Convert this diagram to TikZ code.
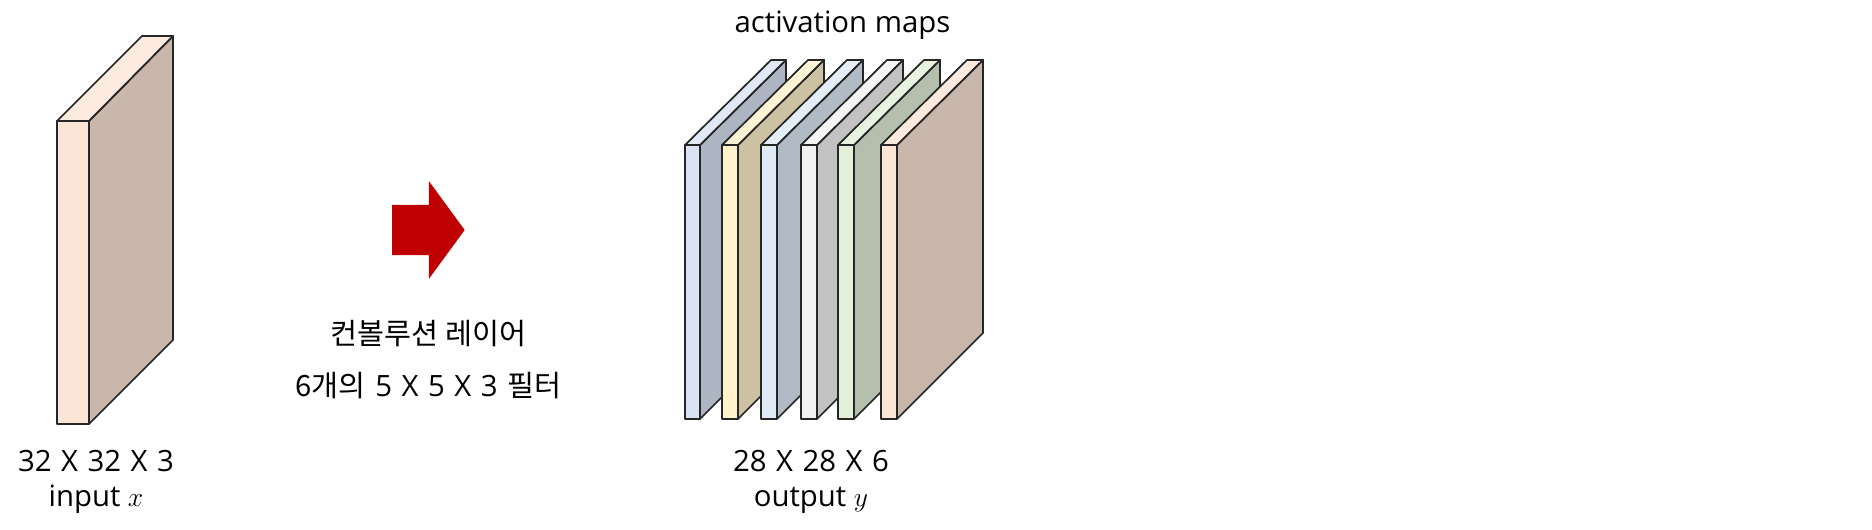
\documentclass[tikz,border=0pt]{standalone}
\usepackage{fontspec}
\setmainfont{Open Sans}
\newfontfamily\krfont{Noto Sans CJK KR}
\newfontfamily\sizefont[WordSpace=1.25]{Open Sans}
\usepackage{xcolor}
\usetikzlibrary{shapes,positioning}

\definecolor{bluefront}{HTML}{D9E3F3}
\definecolor{bluetop}{HTML}{E1E8F5}
\definecolor{blueside}{HTML}{AEB5C2}
\definecolor{yellowfront}{HTML}{FFF2CC}
\definecolor{yellowtop}{HTML}{FFF4D6}
\definecolor{yellowside}{HTML}{CCC2A3}
\definecolor{skyfront}{HTML}{DEEAF6}
\definecolor{skytop}{HTML}{E4EEF8}
\definecolor{skyside}{HTML}{B1BBC5}
\definecolor{grayfront}{HTML}{F2F2F2}
\definecolor{graytop}{HTML}{F5F5F5}
\definecolor{grayside}{HTML}{C2C2C2}
\definecolor{greenfront}{HTML}{E2EFD9}
\definecolor{greentop}{HTML}{E7F2E1}
\definecolor{greenside}{HTML}{B5BFAE}
\definecolor{orangefront}{HTML}{FBE5D6}
\definecolor{orangetop}{HTML}{FCEADF}
\definecolor{orangeside}{HTML}{C9B7AB}
\definecolor{arrowred}{HTML}{C00000}

\begin{document}
\begin{tikzpicture}[
    x=0.75pt, y=-0.75pt,
    face/.style={draw=black!85, line width=1.3pt, line join=round},
    caption/.style={anchor=base, inner sep=0pt, font=\fontsize{22}{26}\selectfont},
    sizecaption/.style={caption, font=\fontsize{22}{26}\selectfont\sizefont},
    bigarrow/.style={single arrow, fill=arrowred, inner xsep=0pt, inner ysep=18.6pt, minimum width=73.5pt, minimum height=54.5pt, single arrow head extend=18pt, single arrow tip angle=107.6, single arrow head indent=0pt}
]
    \useasboundingbox (0,0) rectangle (1872,530);

    % input volume
    \draw [face, fill=orangeside] (89,121) -- (173,36) -- (173,340) -- (89,424) -- cycle;
    \draw [face, fill=orangetop] (57,121) -- (142,36) -- (173,36) -- (89,121) -- cycle;
    \draw [face, fill=orangefront] (57,121) rectangle (89,424);

    % activation maps
    \foreach \x/\w/\name in {685/15/blue, 722/16/yellow, 761/16/sky, 801/16/gray, 838/16/green, 881/16/orange} {
        \draw [face, fill=\name side] (\x+\w,145) -- (\x+\w+86,60) -- (\x+\w+86,333) -- (\x+\w,419) -- cycle;
        \draw [face, fill=\name top] (\x,145) -- (\x+86,60) -- (\x+\w+86,60) -- (\x+\w,145) -- cycle;
        \draw [face, fill=\name front] (\x,145) rectangle (\x+\w,419);
    }

    \node [bigarrow, anchor=tip] (convarrow) at (465,230) {};

    \node [caption] (mapstitle) at (842.5,33) {activation maps};
    \node [sizecaption] (inputsize) at (96,471) {32 X 32 X 3};
    \node [caption, below=26.5pt of inputsize.base, anchor=base] (inputname) {input $x$};
    \node [sizecaption] (outputsize) at (811,471) {28 X 28 X 6};
    \node [caption, below=26.5pt of outputsize.base, anchor=base] (outputname) {output $y$};
    \node [caption] (convlayer) at (428.3,345) {\krfont 컨볼루션 레이어};
    \node [sizecaption, below=39pt of convlayer.base, anchor=base] (convfilter) {{\krfont 6개의} 5 X 5 X 3 {\krfont 필터}};
\end{tikzpicture}
\end{document}
